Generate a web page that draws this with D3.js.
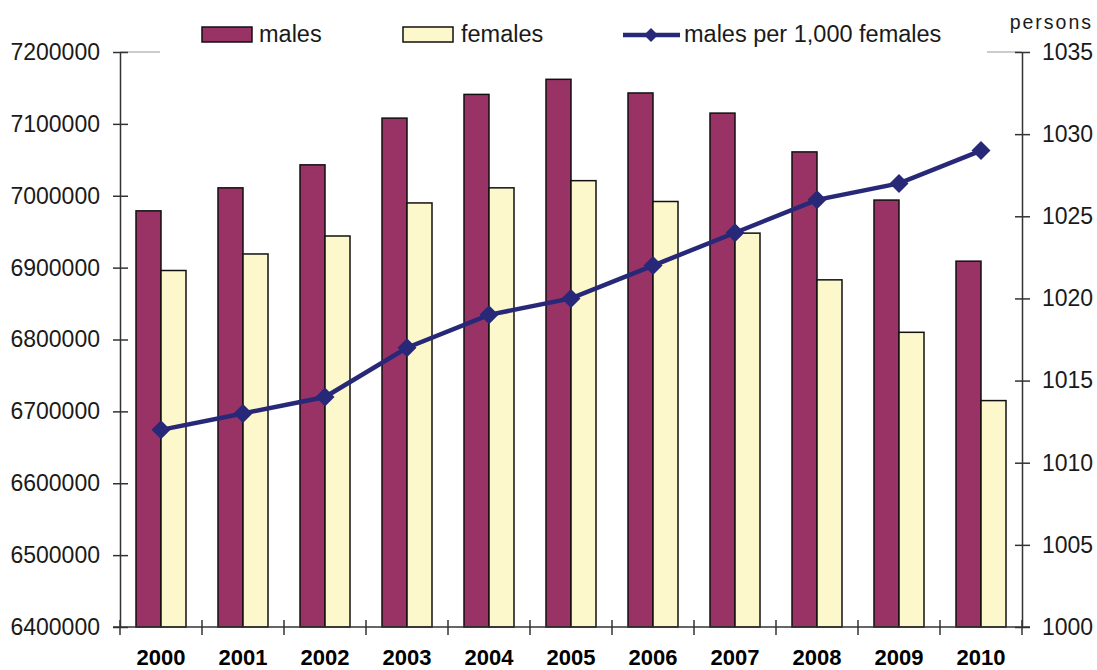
<!DOCTYPE html>
<html>
<head>
<meta charset="utf-8">
<script src="https://cdn.jsdelivr.net/npm/d3@7"></script>
<style>
  html, body { margin: 0; padding: 0; background: #fff; }
  svg { display: block; }
  text { font-family: "Liberation Sans", Arial, sans-serif; fill: #1a1a1a; }
</style>
</head>
<body>
<svg id="chart" width="1097" height="670"></svg>
<script>
const years = ["2000","2001","2002","2003","2004","2005","2006","2007","2008","2009","2010"];
const males = [6979000, 7011000, 7043000, 7108000, 7141000, 7162000, 7143000, 7115000, 7061000, 6994000, 6909000];
const females = [6896000, 6919000, 6944000, 6990000, 7011000, 7021000, 6992000, 6948000, 6883000, 6810000, 6715000];
const ratio = [1012, 1013, 1014, 1017, 1019, 1020, 1022, 1024, 1026, 1027, 1029];
const leftTicks = [6400000, 6500000, 6600000, 6700000, 6800000, 6900000, 7000000, 7100000, 7200000];
const rightTicks = [1000, 1005, 1010, 1015, 1020, 1025, 1030, 1035];
const seriesNames = ["males", "females", "males per 1,000 females"];
const unitLabel = "persons";

const colMale = "#993366", colFemale = "#FCF8CC", colLine = "#282878", colAxis = "#333";
const L = 120, R = 1022, T = 52, B = 627;

const svg = d3.select("#chart");
const x = d3.scaleBand().domain(years).range([L, R]).padding(0);
const inner = d3.scaleBand().domain(["males","females"]).range([16, 66]).padding(0);
const yL = d3.scaleLinear().domain([6400000, 7200000]).range([B, T]);
const yR = d3.scaleLinear().domain([1000, 1035]).range([B, T]);

// top border (partially hidden by legend)
svg.append("line").attr("x1", L).attr("x2", R).attr("y1", T).attr("y2", T)
  .attr("stroke", "#999").attr("stroke-width", 1.2);
svg.append("rect").attr("x", 160).attr("y", 0).attr("width", 987 - 160).attr("height", 60).attr("fill", "#fff");

// bars
const g = svg.append("g");
years.forEach((yr, i) => {
  g.append("rect")
    .attr("x", x(yr) + inner("males")).attr("width", inner.bandwidth())
    .attr("y", yL(males[i])).attr("height", yL(6400000) - yL(males[i]))
    .attr("fill", colMale).attr("stroke", "#111").attr("stroke-width", 1.5);
  g.append("rect")
    .attr("x", x(yr) + inner("females")).attr("width", inner.bandwidth())
    .attr("y", yL(females[i])).attr("height", yL(6400000) - yL(females[i]))
    .attr("fill", colFemale).attr("stroke", "#111").attr("stroke-width", 1.5);
});

// axes
const axL = svg.append("g").attr("transform", `translate(${L},0)`)
  .call(d3.axisLeft(yL).tickValues(leftTicks).tickSize(7).tickSizeOuter(0).tickFormat(d3.format("d")));
axL.selectAll(".tick line").attr("x2", 8).attr("x1", -7);
axL.selectAll(".tick text").attr("x", -20);

const axR = svg.append("g").attr("transform", `translate(${R},0)`)
  .call(d3.axisRight(yR).tickValues(rightTicks).tickSize(7).tickSizeOuter(0).tickFormat(d3.format("d")));
axR.selectAll(".tick line").attr("x1", -7).attr("x2", 8);
axR.selectAll(".tick text").attr("x", 20);

const axB = svg.append("g").attr("transform", `translate(0,${B})`)
  .call(d3.axisBottom(x).tickSize(0).tickSizeOuter(0));
axB.selectAll(".tick text").attr("y", 38).attr("dy", 0)
  .style("font-weight", "bold").style("font-size", "22px").style("fill", "#000");
// category boundary tick marks (cross)
const bounds = d3.range(years.length + 1).map(i => L + i * x.step());
svg.append("g").selectAll("line").data(bounds).join("line")
  .attr("x1", d => d).attr("x2", d => d).attr("y1", B - 7).attr("y2", B + 8)
  .attr("stroke", colAxis).attr("stroke-width", 1.5);
svg.append("line").attr("x1", L - 7).attr("x2", R + 8).attr("y1", B).attr("y2", B)
  .attr("stroke", colAxis).attr("stroke-width", 1.5);

[axL, axR, axB].forEach(a => {
  a.selectAll(".domain").attr("stroke", colAxis).attr("stroke-width", 1.5);
  a.selectAll(".tick line").attr("stroke", colAxis).attr("stroke-width", 1.5);
});
[axL, axR].forEach(a => a.selectAll(".tick text")
  .style("font-size", "23px").style("font-family", "'Liberation Sans', Arial, sans-serif").style("fill", "#1a1a1a"));
axB.selectAll(".tick text").style("font-family", "'Liberation Sans', Arial, sans-serif");
axB.select(".domain").remove();

// line
const cx = yr => x(yr) + x.bandwidth() / 2;
const line = d3.line().x((d, i) => cx(years[i])).y(d => yR(d));
svg.append("path").datum(ratio).attr("d", line)
  .attr("fill", "none").attr("stroke", colLine).attr("stroke-width", 4.5);
const diamond = (s) => `M0,${-s}L${s},0L0,${s}L${-s},0Z`;
svg.append("g").selectAll("path").data(ratio).join("path")
  .attr("transform", (d, i) => `translate(${cx(years[i])},${yR(d)})`)
  .attr("d", diamond(9.5)).attr("fill", colLine);

// legend
const lg = svg.append("g");
lg.append("rect").attr("x", 202).attr("y", 27).attr("width", 50).attr("height", 15)
  .attr("fill", colMale).attr("stroke", "#111").attr("stroke-width", 1.5);
lg.append("text").attr("x", 259).attr("y", 42).style("font-size", "23.5px").text(seriesNames[0]);
lg.append("rect").attr("x", 403).attr("y", 27).attr("width", 50).attr("height", 15)
  .attr("fill", colFemale).attr("stroke", "#111").attr("stroke-width", 1.5);
lg.append("text").attr("x", 461).attr("y", 42).style("font-size", "23.5px").text(seriesNames[1]);
lg.append("line").attr("x1", 623).attr("x2", 680).attr("y1", 35).attr("y2", 35)
  .attr("stroke", colLine).attr("stroke-width", 4.5);
lg.append("path").attr("transform", "translate(651,35)").attr("d", diamond(7)).attr("fill", colLine);
lg.append("text").attr("x", 684).attr("y", 42).style("font-size", "23.5px").text(seriesNames[2]);

svg.append("text").attr("x", 1093).attr("y", 29).attr("text-anchor", "end")
  .style("font-size", "19.5px").style("letter-spacing", "2px").text(unitLabel);
</script>
</body>
</html>
